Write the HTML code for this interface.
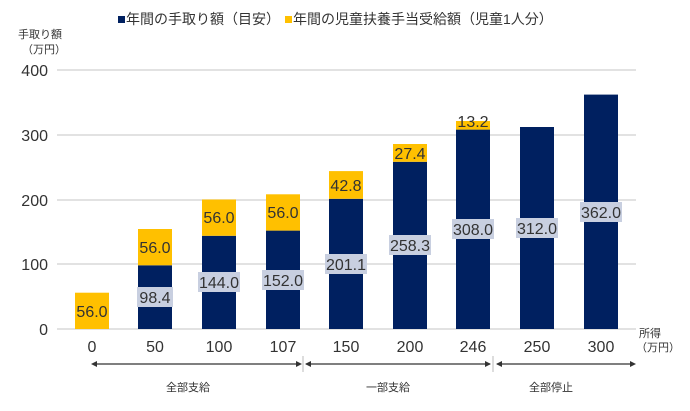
<!DOCTYPE html>
<html><head><meta charset="utf-8"><style>
html,body{margin:0;padding:0;background:#fff;}
svg{display:block;font-family:"Liberation Sans","Noto Sans CJK JP",sans-serif;}
</style></head><body>
<svg width="690" height="411" viewBox="0 0 690 411">
<g stroke="#d9d9d9" stroke-width="1.5">
<line x1="57" y1="70" x2="636" y2="70"/>
<line x1="57" y1="135" x2="636" y2="135"/>
<line x1="57" y1="200" x2="636" y2="200"/>
<line x1="57" y1="264" x2="636" y2="264"/>
<line x1="57" y1="329" x2="636" y2="329"/>
</g>
<g font-size="16" fill="#333" text-anchor="end">
<text x="48" y="76">400</text><text x="48" y="141">300</text><text x="48" y="206">200</text><text x="48" y="270">100</text><text x="48" y="335">0</text>
</g>
<text x="18" y="38" font-size="11" fill="#333">手取り額</text>
<text x="22" y="53" font-size="11" fill="#333">（万円）</text>
<rect x="118" y="16" width="7" height="7" fill="#002060"/>
<text x="126" y="24" font-size="14" fill="#333">年間の手取り額（目安）</text>
<rect x="285" y="16" width="7" height="7" fill="#ffc000"/>
<text x="293" y="24" font-size="14" fill="#333">年間の児童扶養手当受給額（児童1人分）</text>
<g>
<rect x="75" y="292.7" width="34" height="36.3" fill="#ffc000"/>
<rect x="138" y="265.3" width="34" height="63.7" fill="#002060"/>
<rect x="138" y="229" width="34" height="36.3" fill="#ffc000"/>
<rect x="202" y="235.8" width="34" height="93.2" fill="#002060"/>
<rect x="202" y="199.5" width="34" height="36.3" fill="#ffc000"/>
<rect x="266" y="230.6" width="34" height="98.4" fill="#002060"/>
<rect x="266" y="194.3" width="34" height="36.3" fill="#ffc000"/>
<rect x="329" y="198.8" width="34" height="130.2" fill="#002060"/>
<rect x="329" y="171.1" width="34" height="27.7" fill="#ffc000"/>
<rect x="393" y="161.8" width="34" height="167.2" fill="#002060"/>
<rect x="393" y="144" width="34" height="17.8" fill="#ffc000"/>
<rect x="456" y="129.6" width="34" height="199.4" fill="#002060"/>
<rect x="456" y="121" width="34" height="8.6" fill="#ffc000"/>
<rect x="520" y="127" width="34" height="202" fill="#002060"/>
<rect x="584" y="94.6" width="34" height="234.4" fill="#002060"/>
</g>
<g fill="#c8cfe0">
<rect x="137" y="287" width="36" height="20"/>
<rect x="198" y="272" width="42" height="20"/>
<rect x="262" y="270" width="42" height="20"/>
<rect x="325" y="254" width="42" height="20"/>
<rect x="389" y="235" width="42" height="20"/>
<rect x="452" y="219" width="42" height="20"/>
<rect x="516" y="218" width="42" height="20"/>
<rect x="580" y="202" width="42" height="20"/>
</g>
<g font-size="16" fill="#333" text-anchor="middle">
<text x="92" y="317">56.0</text>
<text x="155" y="303">98.4</text>
<text x="155" y="253">56.0</text>
<text x="219" y="288">144.0</text>
<text x="219" y="223">56.0</text>
<text x="283" y="286">152.0</text>
<text x="283" y="218">56.0</text>
<text x="346" y="270">201.1</text>
<text x="346" y="191">42.8</text>
<text x="410" y="251">258.3</text>
<text x="410" y="159">27.4</text>
<text x="473" y="235">308.0</text>
<text x="473" y="127">13.2</text>
<text x="537" y="234">312.0</text>
<text x="601" y="218">362.0</text>
</g>
<g font-size="16" fill="#333" text-anchor="middle">
<text x="92" y="352">0</text><text x="155" y="352">50</text><text x="219" y="352">100</text><text x="283" y="352">107</text><text x="346" y="352">150</text><text x="410" y="352">200</text><text x="473" y="352">246</text><text x="537" y="352">250</text><text x="601" y="352">300</text>
</g>
<text x="639" y="337" font-size="11" fill="#333">所得</text>
<text x="636" y="351" font-size="11" fill="#333">（万円）</text>
<g stroke="#333" stroke-width="1.2">
<line x1="94" y1="364" x2="300" y2="364"/>
<line x1="306" y1="364" x2="490" y2="364"/>
<line x1="497" y1="364" x2="634" y2="364"/>
</g>
<g stroke="#bbb" stroke-width="1"><line x1="303" y1="356" x2="303" y2="372"/><line x1="493" y1="356" x2="493" y2="372"/></g>
<g fill="#333">
<polygon points="91,364 97,361 97,367"/><polygon points="302,364 296,361 296,367"/>
<polygon points="305,364 311,361 311,367"/><polygon points="491,364 485,361 485,367"/>
<polygon points="496,364 502,361 502,367"/><polygon points="636,364 630,361 630,367"/>
</g>
<g font-size="11" fill="#333" text-anchor="middle">
<text x="188" y="391">全部支給</text><text x="388" y="391">一部支給</text><text x="551" y="391">全部停止</text>
</g>
</svg>
</body></html>
